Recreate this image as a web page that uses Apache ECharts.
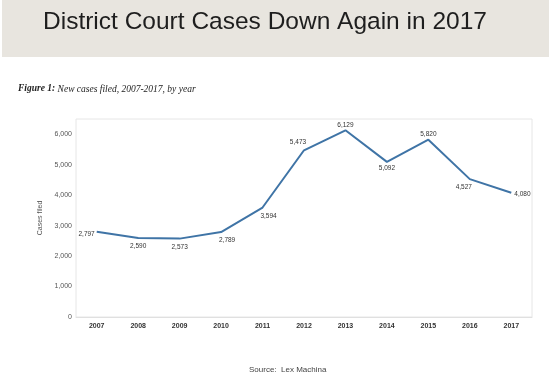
<!DOCTYPE html>
<html>
<head>
<meta charset="utf-8">
<script src="https://cdn.jsdelivr.net/npm/echarts@6/dist/echarts.min.js"></script>
<style>html,body{margin:0;padding:0;background:#fff;}#c{width:549px;height:377px;}</style>
</head>
<body>
<div id="c"></div>
<script>
const years = ['2007','2008','2009','2010','2011','2012','2013','2014','2015','2016','2017'];
const cases = [2797, 2590, 2573, 2789, 3594, 5473, 6129, 5092, 5820, 4527, 4080];
const labelPos = ['left','bottom','bottom','bottom','bottom','top','top','bottom','top','bottom','right'];
const yTicks = [0, 1000, 2000, 3000, 4000, 5000, 6000];

const fmt = v => v.toLocaleString('en-US');
const offsets = {
  0: [3, 2], 3: [6, 0], 4: [6, 0], 5: [-6, 0], 6: [0, 3], 7: [0, -2], 8: [0, 3], 9: [-6, 0], 10: [-2, 1]
};
const seriesData = cases.map((v, i) => ({
  value: v,
  label: { position: labelPos[i], offset: offsets[i] || [0, 0] }
}));

const chart = echarts.init(document.getElementById('c'), null, { renderer: 'canvas' });
chart.setOption({
  animation: false,
  backgroundColor: '#ffffff',
  graphic: [
    { type: 'rect', left: 2, top: 0, shape: { width: 547, height: 57 }, style: { fill: '#e8e5df' }, z: -1 },
    { type: 'text', left: 43, top: 10, style: { text: 'District Court Cases Down Again in 2017', font: '24.5px "Liberation Sans", Arial, sans-serif', fill: '#1e1e1e' } },
    { type: 'text', left: 18, top: 84, style: { rich: { b: { font: 'italic bold 9.5px "Liberation Serif", serif', fill: '#222' }, n: { font: 'italic 9.5px "Liberation Serif", serif', fill: '#222' } }, text: '{b|Figure 1:}{n| New cases filed, 2007-2017, by year}' } },
    { type: 'text', left: 249, top: 366, style: { text: 'Source:  Lex Machina', font: '8px "Liberation Sans", Arial, sans-serif', fill: '#444' } }
  ],
  grid: { left: 76, right: 17, top: 119, bottom: 60, show: true, borderColor: '#e6e6e6', borderWidth: 1, backgroundColor: 'transparent' },
  xAxis: {
    type: 'category',
    data: years,
    boundaryGap: true,
    axisLine: { show: true, lineStyle: { color: '#e0e0e0' } },
    axisTick: { show: false },
    axisLabel: { fontSize: 7, fontWeight: 'bold', color: '#333', margin: 6, fontFamily: '"Liberation Sans", Arial, sans-serif' }
  },
  yAxis: {
    type: 'value',
    min: 0, max: 6500, interval: 1000,
    name: 'Cases filed',
    nameLocation: 'middle',
    nameGap: 22,
    nameTextStyle: { fontSize: 7, color: '#555', fontFamily: '"Liberation Sans", Arial, sans-serif' },
    axisLine: { show: false },
    axisTick: { show: false },
    splitLine: { show: false },
    axisLabel: {
      fontSize: 7, color: '#555', margin: 4, fontFamily: '"Liberation Sans", Arial, sans-serif',
      formatter: v => (yTicks.includes(v) ? fmt(v) : '')
    }
  },
  series: [{
    type: 'line',
    data: seriesData,
    symbol: 'circle',
    symbolSize: 2,
    showSymbol: true,
    showAllSymbol: true,
    itemStyle: { color: 'rgba(0,0,0,0)', borderWidth: 0 },
    lineStyle: { color: '#3f74a6', width: 2 },
    label: { show: true, fontSize: 6.5, color: '#333', distance: 4, formatter: p => fmt(p.value), fontFamily: '"Liberation Sans", Arial, sans-serif' }
  }]
});
</script>
</body>
</html>
